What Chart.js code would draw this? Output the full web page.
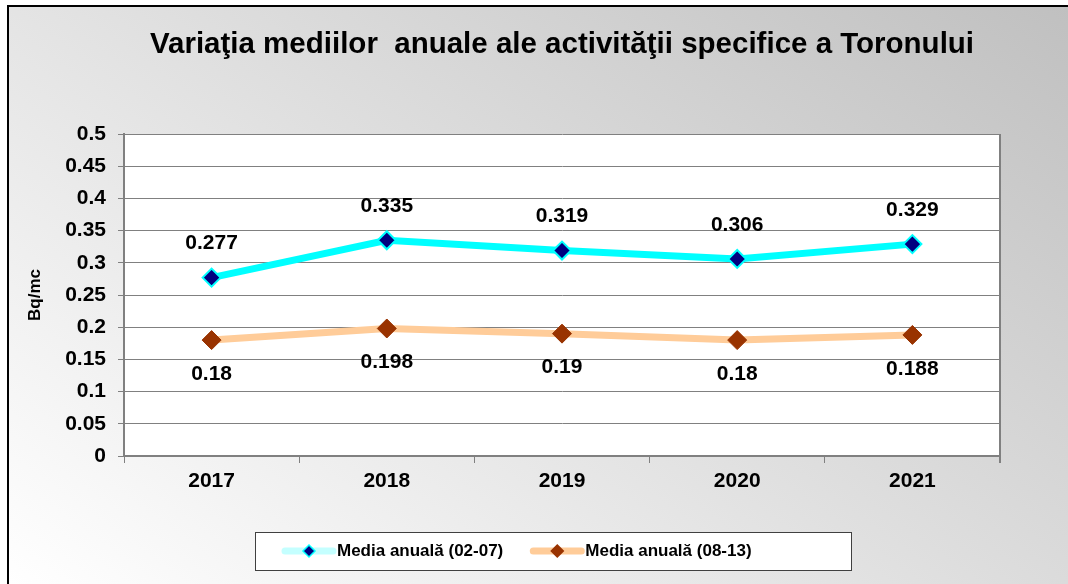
<!DOCTYPE html>
<html>
<head>
<meta charset="utf-8">
<script src="https://cdn.jsdelivr.net/npm/chart.js@4.4.0/dist/chart.umd.min.js"></script>
<style>
  html, body { margin: 0; padding: 0; background: #fff; }
  #bg {
    position: absolute; left: 7px; top: 5px; width: 1061px; height: 579px;
    box-sizing: border-box;
    border-top: 2px solid #000; border-left: 2px solid #000;
    background: linear-gradient(216deg, #c0c0c0, #ffffff);
  }
  #wrap { position: absolute; left: 0; top: 0; width: 1068px; height: 584px; }
</style>
</head>
<body>
<div id="bg"></div>
<div id="wrap"><canvas id="chart" width="1068" height="584"></canvas></div>
<script>
const years = ['2017', '2018', '2019', '2020', '2021'];
const media0207 = [0.277, 0.335, 0.319, 0.306, 0.329];
const media0813 = [0.18, 0.198, 0.19, 0.18, 0.188];
const seriesNames = ['Media anuală (02-07)', 'Media anuală (08-13)'];
const chartTitle = 'Variaţia mediilor  anuale ale activităţii specifice a Toronului';
const yTitle = 'Bq/mc';

const fam = 'Arial, "Liberation Sans", sans-serif';

// white plot area + right border
const plotBox = {
    id: 'plotBox',
    beforeDraw(chart) {
        const a = chart.chartArea, ctx = chart.ctx;
        ctx.save();
        ctx.fillStyle = '#fff';
        ctx.fillRect(a.left, a.top, a.right - a.left, a.bottom - a.top);
        ctx.restore();
    },
    beforeDatasetsDraw(chart) {
        const a = chart.chartArea, ctx = chart.ctx;
        ctx.save();
        ctx.strokeStyle = '#808080';
        ctx.lineWidth = 2;
        ctx.beginPath();
        ctx.moveTo(a.right, a.top);
        ctx.lineTo(a.right, a.bottom + 7);
        ctx.stroke();
        ctx.restore();
    }
};

// value labels, above for first series, below for second
const valueLabels = {
    id: 'valueLabels',
    afterDatasetsDraw(chart) {
        const ctx = chart.ctx;
        ctx.save();
        ctx.font = 'bold 21px ' + fam;
        ctx.fillStyle = '#000';
        ctx.textAlign = 'center';
        ctx.textBaseline = 'middle';
        chart.data.datasets.forEach((ds, i) => {
            const meta = chart.getDatasetMeta(i);
            const off = i === 0 ? -34 : 34;
            meta.data.forEach((pt, j) => {
                ctx.fillText(String(ds.data[j]), pt.x, pt.y + off);
            });
        });
        ctx.restore();
    }
};

// excel style legend box at the bottom
const boxLegend = {
    id: 'boxLegend',
    afterDraw(chart) {
        const ctx = chart.ctx;
        const top = 532, h = 38, cy = top + h / 2;
        ctx.save();
        ctx.fillStyle = '#fff';
        ctx.fillRect(255, top, 596, h);
        ctx.strokeStyle = '#404040';
        ctx.lineWidth = 1;
        ctx.strokeRect(255.5, top + 0.5, 596, h);
        ctx.font = 'bold 17px ' + fam;
        ctx.textBaseline = 'middle';
        let x = 285;
        chart.data.datasets.forEach((ds, i) => {
            ctx.strokeStyle = i === 0 ? '#c4ffff' : ds.borderColor;
            ctx.lineWidth = 7;
            ctx.lineCap = 'round';
            ctx.beginPath();
            ctx.moveTo(x, cy);
            ctx.lineTo(x + 48, cy);
            ctx.stroke();
            const r = 6;
            ctx.beginPath();
            ctx.moveTo(x + 24, cy - r);
            ctx.lineTo(x + 24 + r, cy);
            ctx.lineTo(x + 24, cy + r);
            ctx.lineTo(x + 24 - r, cy);
            ctx.closePath();
            ctx.fillStyle = ds.pointBackgroundColor;
            ctx.fill();
            ctx.lineWidth = 1.5;
            ctx.lineCap = 'butt';
            ctx.strokeStyle = ds.pointBorderColor;
            ctx.stroke();
            ctx.fillStyle = '#000';
            ctx.fillText(ds.label, x + 52, cy);
            x += 52 + ctx.measureText(ds.label).width + 30;
        });
        ctx.restore();
    }
};

new Chart('chart', {
    type: 'line',
    data: {
        labels: years,
        datasets: [{
            label: seriesNames[0],
            data: media0207,
            borderColor: '#00ffff',
            borderWidth: 7,
            pointStyle: 'rectRot',
            pointRadius: 9,
            pointBorderWidth: 2,
            pointBackgroundColor: '#000080',
            pointBorderColor: '#00ffff',
            tension: 0
        }, {
            label: seriesNames[1],
            data: media0813,
            borderColor: '#ffcc99',
            borderWidth: 7,
            pointStyle: 'rectRot',
            pointRadius: 9.5,
            pointBorderWidth: 1,
            pointBackgroundColor: '#993300',
            pointBorderColor: '#993300',
            tension: 0
        }]
    },
    options: {
        responsive: false,
        animation: false,
        devicePixelRatio: 1,
        events: [],
        layout: { padding: { left: 0, right: 68, top: 0, bottom: 0 } },
        plugins: {
            legend: { display: false },
            tooltip: { enabled: false },
            title: {
                display: true,
                text: chartTitle,
                fullSize: false,
                color: '#000',
                font: { family: fam, size: 29.5, weight: 'bold', lineHeight: 1.2 },
                padding: { top: 27, bottom: 71.6 }
            }
        },
        scales: {
            x: {
                offset: true,
                afterFit(scale) { scale.height = 128; },
                grid: {
                    offset: true,
                    drawOnChartArea: false,
                    tickLength: 7,
                    color: '#808080'
                },
                border: { color: '#808080', width: 2 },
                ticks: {
                    color: '#000',
                    padding: 6,
                    font: { family: fam, size: 21, weight: 'bold' }
                }
            },
            y: {
                min: 0,
                max: 0.5,
                afterFit(scale) { scale.width = 124; },
                grid: { color: '#808080', tickLength: 6 },
                border: { color: '#808080', width: 2 },
                ticks: {
                    stepSize: 0.05,
                    color: '#000',
                    padding: 12,
                    font: { family: fam, size: 21, weight: 'bold' },
                    callback: function (value) {
                        return String(+value.toFixed(2));
                    }
                },
                title: {
                    display: true,
                    text: yTitle,
                    color: '#000',
                    font: { family: fam, size: 17, weight: 'bold' },
                    padding: { top: 25, bottom: 0 }
                }
            }
        }
    },
    plugins: [plotBox, valueLabels, boxLegend]
});
</script>
</body>
</html>
